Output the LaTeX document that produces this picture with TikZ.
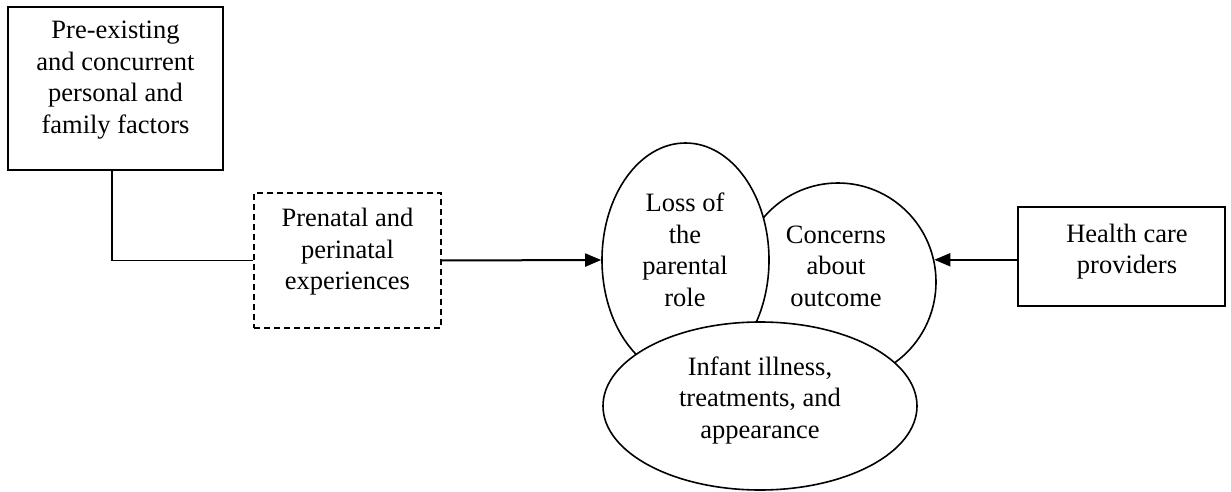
\documentclass[tikz,border=0pt]{standalone}
\usepackage{fontspec}
\setmainfont{Liberation Serif}
\usetikzlibrary{shapes.geometric,arrows.meta}
\begin{document}
\begin{tikzpicture}[x=1pt,y=-1pt,line width=1.6pt,
  txt/.style={align=center,font=\fontsize{26.5}{31.5}\selectfont,inner sep=0pt},
  box/.style={draw,rectangle,inner sep=0pt,line width=1.6pt},
  dbox/.style={draw,rectangle,inner sep=0pt,line width=1.6pt,dash pattern=on 6pt off 4pt},
  ell/.style={draw,ellipse,fill=white,inner sep=0pt,line width=1.6pt},
  arr/.style={line width=2pt,-{Triangle[length=16pt,width=13pt]}}]
\useasboundingbox (0,0) rectangle (1231,492);
% boxes
\node[box,minimum width=215pt,minimum height=163pt] (fac) at (115.5,88.5) {};
\node[txt] (factxt) at (115.5,80) {Pre-existing\\and concurrent\\personal and\\family factors};
\node[dbox,minimum width=187pt,minimum height=135pt] (pre) at (347.5,260.5) {};
\node[txt] (pretxt) at (347.5,252) {Prenatal and\\perinatal\\experiences};
\node[box,minimum width=207pt,minimum height=99pt] (hcp) at (1121.5,256.5) {};
\node[txt] (hcptxt) at (1127,251.5) {Health care\\providers};
% ellipses
\node[ell,minimum width=196pt,minimum height=198pt] (conc) at (838,282) {};
\node[ell,minimum width=167pt,minimum height=234pt] (loss) at (685.5,260) {};
\node[ell,minimum width=314pt,minimum height=168pt] (inf) at (760,406) {};
\node[txt] (conctxt) at (836,266) {Concerns\\about\\outcome};
\node[txt] (losstxt) at (685,250) {Loss of\\the\\parental\\role};
\node[txt] (inftxt) at (760,400) {Infant illness,\\treatments, and\\appearance};
% connectors
\draw[line width=1.6pt] (fac.south -| 112,0) |- (pre.west);
\draw[arr] (pre.east) -- (loss.west);
\draw[arr] (hcp.west |- conc.13) -- (conc.13);
\end{tikzpicture}
\end{document}
